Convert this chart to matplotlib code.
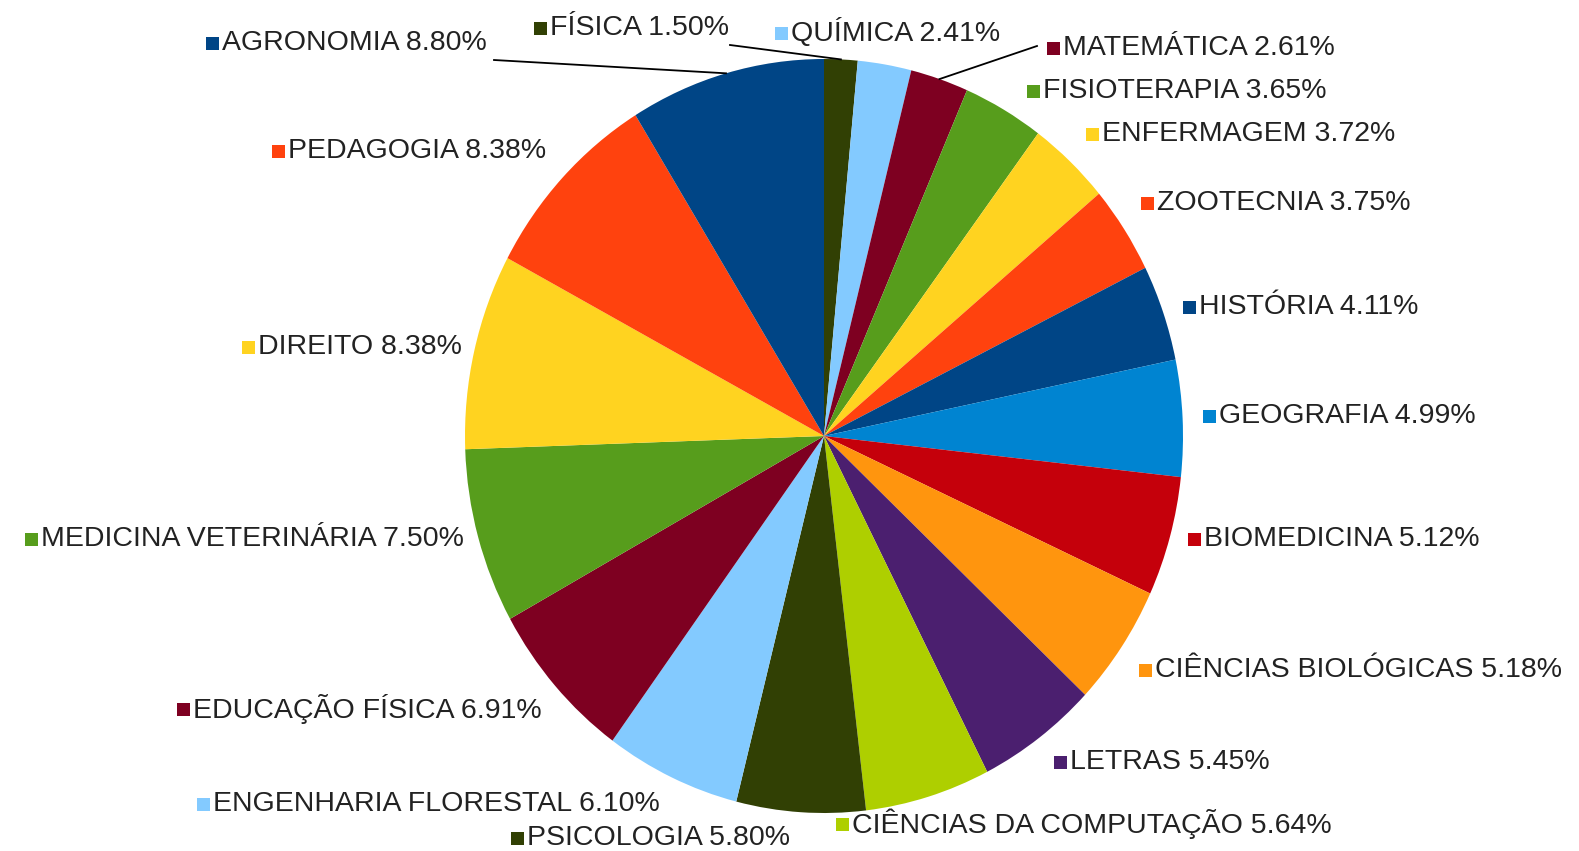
import matplotlib
matplotlib.use("Agg")
import matplotlib.pyplot as plt
from matplotlib.patches import Rectangle

# data, clockwise from the top
courses = ["FÍSICA", "QUÍMICA", "MATEMÁTICA", "FISIOTERAPIA", "ENFERMAGEM",
           "ZOOTECNIA", "HISTÓRIA", "GEOGRAFIA", "BIOMEDICINA",
           "CIÊNCIAS BIOLÓGICAS", "LETRAS", "CIÊNCIAS DA COMPUTAÇÃO",
           "PSICOLOGIA", "ENGENHARIA FLORESTAL", "EDUCAÇÃO FÍSICA",
           "MEDICINA VETERINÁRIA", "DIREITO", "PEDAGOGIA", "AGRONOMIA"]
shares = [1.50, 2.41, 2.61, 3.65, 3.72, 3.75, 4.11, 4.99, 5.12, 5.18,
          5.45, 5.64, 5.80, 6.10, 6.91, 7.50, 8.38, 8.38, 8.80]

palette = ["#314004", "#83caff", "#7e0021", "#579d1c", "#ffd320", "#ff420e",
           "#004586", "#0084d1", "#c5000b", "#ff950e", "#4b1f6f", "#aecf00"]
colors = [palette[i % len(palette)] for i in range(len(shares))]

# label layout (pixel coords from top-left): square left x, center y
label_pos = [(534, 28), (775, 33), (1047, 48), (1027, 91), (1086, 134),
             (1141, 203), (1183, 307), (1203, 416), (1188, 539),
             (1139, 670), (1054, 762), (836, 824), (511, 838), (197, 804),
             (177, 709), (25, 539), (242, 347), (272, 151), (206, 43)]
# leader lines: label index -> start point
leaders = {0: (730, 45), 2: (1037, 46), 18: (494, 60)}

W, H = 1579, 851
fig = plt.figure(figsize=(W / 100, H / 100), dpi=100)

cx, cy, rx, ry = 824, 436, 359, 377
ax = fig.add_axes([(cx - rx) / W, (H - cy - ry) / H, 2 * rx / W, 2 * ry / H])
ax.pie(shares, colors=colors, startangle=90, counterclock=False,
       wedgeprops=dict(linewidth=0))
ax.set_aspect("auto")
ax.set_xlim(-1, 1)
ax.set_ylim(-1, 1)
ax.axis("off")

ov = fig.add_axes([0, 0, 1, 1], zorder=3)
ov.set_xlim(0, W)
ov.set_ylim(H, 0)
ov.axis("off")
ov.patch.set_alpha(0)

import numpy as np
total = sum(shares)
cum = np.cumsum([0] + shares[:-1])
sq = 13
for i, (name, val) in enumerate(zip(courses, shares)):
    x, y = label_pos[i]
    ov.add_patch(Rectangle((x, y - sq / 2), sq, sq, color=colors[i], lw=0))
    ov.text(x + sq + 3, y, f"{name} {val:.2f}%", va="center", ha="left",
            fontsize=20.5, color="#222222",
            family=["Liberation Sans", "DejaVu Sans"])
    if i in leaders:
        ang = np.deg2rad(90 - (cum[i] + val / 2) / total * 360)
        px, py = ax.transData.transform((np.cos(ang), np.sin(ang)))
        ex, ey = ov.transData.inverted().transform((px, py))
        sx, sy = leaders[i]
        ov.plot([sx, ex], [sy, ey], color="black", lw=1.3)

fig.savefig("out.png", dpi=100)
